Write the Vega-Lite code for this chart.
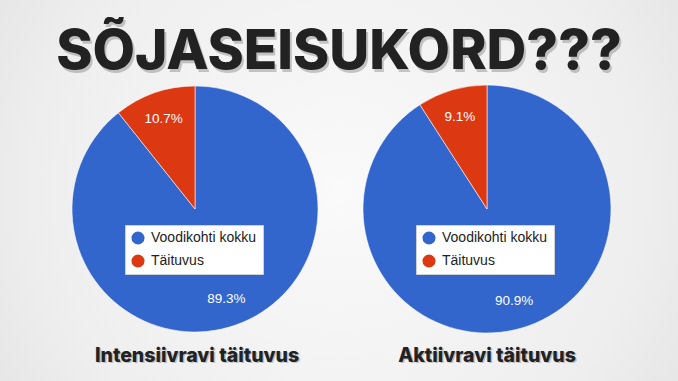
{
  "$schema": "https://vega.github.io/schema/vega-lite/v6.json",
  "width": 678,
  "height": 381,
  "autosize": {"type": "fit", "contains": "padding"},
  "padding": 0,
  "background": "#e4e4e4",
  "config": {"view": {"stroke": null}},
  "datasets": {
    "pies": [
      {"chart": "Intensiivravi täituvus", "category": "Voodikohti kokku", "value": 0.893},
      {"chart": "Intensiivravi täituvus", "category": "Täituvus", "value": 0.107},
      {"chart": "Aktiivravi täituvus", "category": "Voodikohti kokku", "value": 0.909},
      {"chart": "Aktiivravi täituvus", "category": "Täituvus", "value": 0.091}
    ],
    "heading": [{"text": "SÕJASEISUKORD???"}]
  },
  "data": {"name": "pies"},
  "layer": [
    {
      "data": {"values": [{}]},
      "mark": {
        "type": "rect",
        "fill": {
          "gradient": "radial",
          "x1": 0.5, "y1": 0.5, "r1": 0,
          "x2": 0.5, "y2": 0.5, "r2": 0.75,
          "stops": [
            {"offset": 0, "color": "#fafafa"},
            {"offset": 0.6, "color": "#eeeeee"},
            {"offset": 1, "color": "#dcdcdc"}
          ]
        }
      },
      "encoding": {}
    },
    {
      "data": {"name": "heading"},
      "mark": {"type": "text", "font": "Inter", "fontWeight": 800, "fontSize": 55, "color": "#000000", "opacity": 0.2, "yOffset": -136, "xOffset": 2},
      "encoding": {"text": {"field": "text"}}
    },
    {
      "data": {"name": "heading"},
      "mark": {"type": "text", "font": "Inter", "fontWeight": 800, "fontSize": 55, "color": "#222222", "yOffset": -138.5},
      "encoding": {"text": {"field": "text"}}
    },
    {
      "transform": [{"filter": "datum.category === 'Voodikohti kokku'"}],
      "mark": {"type": "text", "font": "Inter", "fontWeight": 800, "fontSize": 19.5, "color": "#000000", "opacity": 0.2, "yOffset": 166.5, "xOffset": 1.5},
      "encoding": {
        "x": {"field": "chart", "type": "nominal", "scale": {"type": "point", "domain": ["Intensiivravi täituvus", "Aktiivravi täituvus"], "range": [197, 487], "padding": 0}, "axis": null},
        "text": {"field": "chart"}
      }
    },
    {
      "transform": [{"filter": "datum.category === 'Voodikohti kokku'"}],
      "mark": {"type": "text", "font": "Inter", "fontWeight": 800, "fontSize": 19.5, "color": "#222222", "yOffset": 165},
      "encoding": {
        "x": {"field": "chart", "type": "nominal", "scale": {"type": "point", "domain": ["Intensiivravi täituvus", "Aktiivravi täituvus"], "range": [197, 487], "padding": 0}, "axis": null},
        "text": {"field": "chart"}
      }
    },
    {
      "transform": [{"filter": "datum.chart === 'Intensiivravi täituvus'"}],
      "encoding": {
        "x": {"field": "chart", "type": "nominal", "scale": {"type": "point", "domain": ["Intensiivravi täituvus", "Aktiivravi täituvus"], "range": [197, 487], "padding": 0}, "axis": null},
        "theta": {"field": "value", "type": "quantitative", "stack": true},
        "order": {"field": "category", "sort": "descending"}
      },
      "layer": [
        {
          "mark": {"type": "arc", "radius": 123, "yOffset": 18.5, "xOffset": -2, "stroke": "#ffffff", "strokeWidth": 0.8, "strokeOpacity": 0.7},
          "encoding": {
            "color": {
              "field": "category", "type": "nominal",
              "scale": {"domain": ["Voodikohti kokku", "Täituvus"], "range": ["#3366cc", "#dc3912"]},
              "legend": {
                "title": null, "orient": "none", "legendX": 125, "legendY": 225,
                "fillColor": "#ffffff", "strokeColor": "#d0d0d0", "padding": 6,
                "symbolType": "circle", "symbolSize": 170, "symbolStrokeWidth": 0,
                "labelFont": "Liberation Sans", "labelFontSize": 14, "labelColor": "#222222",
                "labelOffset": 6, "rowPadding": 9, "labelLimit": 300
              }
            }
          }
        },
        {
          "mark": {"type": "text", "radius": 95, "yOffset": 18.5, "xOffset": -2, "color": "#ffffff", "font": "Liberation Sans", "fontSize": 13.5},
          "encoding": {
            "detail": {"field": "category"},
            "text": {"field": "value", "type": "quantitative", "format": ".1%"}
          }
        }
      ]
    },
    {
      "transform": [{"filter": "datum.chart === 'Aktiivravi täituvus'"}],
      "encoding": {
        "x": {"field": "chart", "type": "nominal", "scale": {"type": "point", "domain": ["Intensiivravi täituvus", "Aktiivravi täituvus"], "range": [197, 487], "padding": 0}, "axis": null},
        "theta": {"field": "value", "type": "quantitative", "stack": true},
        "order": {"field": "category", "sort": "descending"}
      },
      "layer": [
        {
          "mark": {"type": "arc", "radius": 124, "yOffset": 18.5, "stroke": "#ffffff", "strokeWidth": 0.8, "strokeOpacity": 0.7},
          "encoding": {
            "color": {
              "field": "category", "type": "nominal",
              "scale": {"domain": ["Voodikohti kokku", "Täituvus"], "range": ["#3366cc", "#dc3912"]},
              "legend": {
                "title": null, "orient": "none", "legendX": 416, "legendY": 225,
                "fillColor": "#ffffff", "strokeColor": "#d0d0d0", "padding": 6,
                "symbolType": "circle", "symbolSize": 170, "symbolStrokeWidth": 0,
                "labelFont": "Liberation Sans", "labelFontSize": 14, "labelColor": "#222222",
                "labelOffset": 6, "rowPadding": 9, "labelLimit": 300
              }
            }
          }
        },
        {
          "mark": {"type": "text", "radius": 96, "yOffset": 18.5, "color": "#ffffff", "font": "Liberation Sans", "fontSize": 13.5},
          "encoding": {
            "detail": {"field": "category"},
            "text": {"field": "value", "type": "quantitative", "format": ".1%"}
          }
        }
      ]
    }
  ],
  "resolve": {"scale": {"color": "independent"}, "legend": {"color": "independent"}}
}
